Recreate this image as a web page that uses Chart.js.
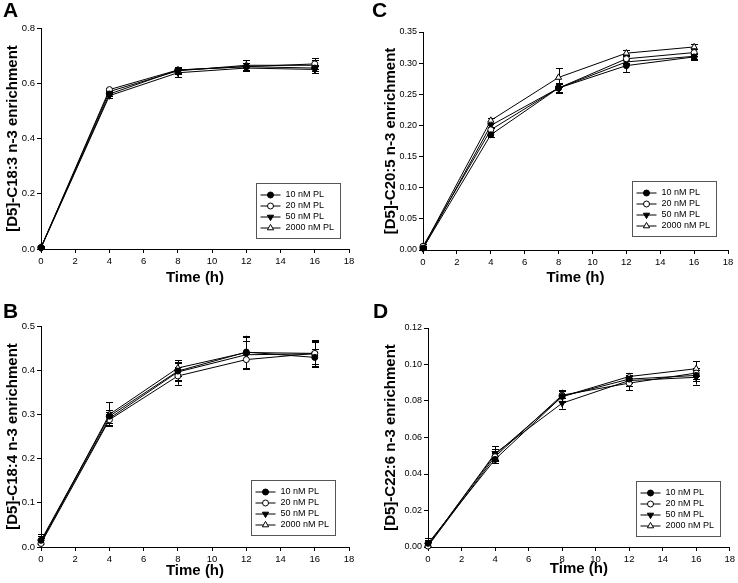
<!DOCTYPE html>
<html><head><meta charset="utf-8">
<script src="https://cdn.jsdelivr.net/npm/chart.js@4/dist/chart.umd.min.js"></script>
<style>
html,body{margin:0;padding:0;background:#fff;}
#wrap{position:relative;width:738px;height:583px;overflow:hidden;}
canvas{position:absolute;}
.lt{position:absolute;font:bold 21px "Liberation Sans",Arial,sans-serif;line-height:21px;color:#000;}
</style></head><body>
<div id="wrap">
<canvas id="cA" width="369" height="290" style="left:0;top:0"></canvas>
<canvas id="cC" width="369" height="290" style="left:369px;top:0"></canvas>
<canvas id="cB" width="369" height="293" style="left:0;top:290px"></canvas>
<canvas id="cD" width="369" height="293" style="left:369px;top:290px"></canvas>
<div class="lt" style="left:3px;top:-1px">A</div>
<div class="lt" style="left:372px;top:-1px">C</div>
<div class="lt" style="left:3px;top:300px">B</div>
<div class="lt" style="left:373px;top:300px">D</div>
</div>
<script>
// ---- data ----
const timePoints = [0, 4, 8, 12, 16];
const seriesLabels = ['10 nM PL', '20 nM PL', '50 nM PL', '2000 nM PL'];
const xTickValues = [0, 2, 4, 6, 8, 10, 12, 14, 16, 18];

// Panel A: [D5]-C18:3 n-3
const a10 = [0.005, 0.561, 0.648, 0.660, 0.655];
const a20 = [0.005, 0.577, 0.648, 0.660, 0.670];
const a50 = [0.004, 0.555, 0.638, 0.655, 0.650];
const a2000 = [0.006, 0.570, 0.645, 0.665, 0.665];
const a10Err = [0.004, 0.008, 0.010, 0.012, 0.012];
const a20Err = [0.004, 0.006, 0.008, 0.015, 0.020];
const a50Err = [0.004, 0.008, 0.015, 0.010, 0.012];
const a2000Err = [0.004, 0.006, 0.010, 0.018, 0.020];
const aYTicks = [0.0, 0.2, 0.4, 0.6, 0.8];

// Panel B: [D5]-C18:4 n-3
const b10 = [0.015, 0.296, 0.398, 0.441, 0.429];
const b20 = [0.008, 0.288, 0.387, 0.424, 0.438];
const b50 = [0.012, 0.291, 0.396, 0.435, 0.437];
const b2000 = [0.010, 0.300, 0.405, 0.440, 0.438];
const b10Err = [0.015, 0.015, 0.020, 0.035, 0.020];
const b20Err = [0.012, 0.012, 0.020, 0.018, 0.025];
const b50Err = [0.012, 0.015, 0.020, 0.030, 0.028];
const b2000Err = [0.010, 0.027, 0.018, 0.038, 0.030];
const bYTicks = [0.0, 0.1, 0.2, 0.3, 0.4, 0.5];

// Panel C: [D5]-C20:5 n-3
const c10 = [0.003, 0.185, 0.260, 0.296, 0.310];
const c20 = [0.006, 0.193, 0.260, 0.307, 0.317];
const c50 = [0.002, 0.200, 0.260, 0.302, 0.311];
const c2000 = [0.004, 0.208, 0.277, 0.316, 0.326];
const c10Err = [0.003, 0.004, 0.008, 0.010, 0.004];
const c20Err = [0.003, 0.004, 0.006, 0.006, 0.005];
const c50Err = [0.003, 0.004, 0.006, 0.004, 0.006];
const c2000Err = [0.003, 0.004, 0.015, 0.005, 0.004];
const cYTicks = [0.00, 0.05, 0.10, 0.15, 0.20, 0.25, 0.30, 0.35];

// Panel D: [D5]-C22:6 n-3
const d10 = [0.002, 0.0480, 0.0825, 0.0920, 0.0940];
const d20 = [0.0005, 0.0495, 0.0832, 0.0898, 0.0953];
const d50 = [0.001, 0.0513, 0.0788, 0.0912, 0.0930];
const d2000 = [0.001, 0.0506, 0.0824, 0.0934, 0.0977];
const d10Err = [0.003, 0.002, 0.003, 0.002, 0.003];
const d20Err = [0.002, 0.002, 0.003, 0.004, 0.003];
const d50Err = [0.002, 0.004, 0.003, 0.003, 0.004];
const d2000Err = [0.003, 0.003, 0.003, 0.002, 0.004];
const dYTicks = [0.00, 0.02, 0.04, 0.06, 0.08, 0.10, 0.12];

// ---- styles ----
const FONT = '"Liberation Sans", Arial, sans-serif';
const markerStyles = [
  {pointStyle: 'circle', rot: 0, fill: '#000', r: 3},
  {pointStyle: 'circle', rot: 0, fill: '#fff', r: 3},
  {pointStyle: 'triangle', rot: 180, fill: '#000', r: 3.6},
  {pointStyle: 'triangle', rot: 0, fill: '#fff', r: 3.6}
];

function drawMarker(ctx, m, x, y) {
  ctx.save();
  ctx.fillStyle = m.fill; ctx.strokeStyle = '#000'; ctx.lineWidth = 1;
  ctx.beginPath();
  if (m.pointStyle === 'circle') {
    ctx.arc(x, y, m.r, 0, Math.PI * 2);
  } else {
    const base = (m.rot === 180 ? Math.PI / 2 : -Math.PI / 2);
    for (let k = 0; k < 3; k++) {
      const a = base + k * 2 * Math.PI / 3;
      const px = x + m.r * Math.cos(a), py = y + m.r * Math.sin(a);
      if (k === 0) ctx.moveTo(px, py); else ctx.lineTo(px, py);
    }
    ctx.closePath();
  }
  ctx.fill(); ctx.stroke();
  ctx.restore();
}

const errorBars = {
  id: 'errorBars',
  beforeDatasetsDraw(chart) {
    const {ctx, scales: {x, y}} = chart;
    ctx.save();
    ctx.strokeStyle = '#000'; ctx.lineWidth = 1;
    chart.data.datasets.forEach(ds => {
      ds.data.forEach((p, i) => {
        const e = ds.errors[i];
        const px = Math.round(x.getPixelForValue(p.x)) + 0.5;
        const top = y.getPixelForValue(p.y + e);
        const bot = y.getPixelForValue(Math.max(y.min, p.y - e));
        ctx.beginPath();
        ctx.moveTo(px, top); ctx.lineTo(px, bot);
        ctx.moveTo(px - 3.5, Math.round(top) + 0.5); ctx.lineTo(px + 3.5, Math.round(top) + 0.5);
        if (p.y - e > y.min) { ctx.moveTo(px - 3.5, Math.round(bot) + 0.5); ctx.lineTo(px + 3.5, Math.round(bot) + 0.5); }
        ctx.stroke();
      });
    });
    ctx.restore();
  }
};

const legendBox = {
  id: 'legendBox',
  afterDraw(chart, args, opts) {
    const {ctx, chartArea: ca} = chart;
    const w = opts.w, h = opts.h;
    const x0 = Math.round(ca.right - opts.right - w) + 0.5;
    const y0 = Math.round(ca.bottom - opts.bottom - h) + 0.5;
    ctx.save();
    ctx.fillStyle = '#fff'; ctx.fillRect(x0, y0, w, h);
    ctx.strokeStyle = '#555'; ctx.lineWidth = 1; ctx.strokeRect(x0, y0, w, h);
    chart.data.datasets.forEach((ds, i) => {
      const y = y0 + 11.5 + i * 11;
      ctx.strokeStyle = '#000'; ctx.lineWidth = 1;
      ctx.beginPath(); ctx.moveTo(x0 + 4, y); ctx.lineTo(x0 + 24, y); ctx.stroke();
      drawMarker(ctx, markerStyles[i], x0 + 14, y);
      ctx.fillStyle = '#000'; ctx.font = '9px ' + FONT; ctx.textBaseline = 'middle'; ctx.textAlign = 'left';
      ctx.fillText(ds.label, x0 + 29, y);
    });
    ctx.restore();
  }
};

function makeChart(id, values, errs, yTicks, yDecimals, yTitle, lay) {
  const datasets = values.map((vals, i) => ({
    label: seriesLabels[i],
    data: timePoints.map((t, k) => ({x: t, y: vals[k]})),
    errors: errs[i],
    showLine: true,
    borderColor: '#000',
    borderWidth: 1,
    tension: 0,
    pointStyle: markerStyles[i].pointStyle,
    rotation: markerStyles[i].rot,
    pointRadius: markerStyles[i].r,
    pointBackgroundColor: markerStyles[i].fill,
    pointBorderColor: '#000',
    pointBorderWidth: 1,
    clip: false
  }));
  return new Chart(document.getElementById(id), {
    type: 'scatter',
    data: {datasets},
    plugins: [errorBars, legendBox],
    options: {
      responsive: false,
      animation: false,
      events: [],
      layout: {autoPadding: false, padding: {left: 0, top: lay.top, right: lay.right, bottom: 0}},
      plugins: {
        legend: {display: false},
        tooltip: {enabled: false},
        legendBox: {w: 84, h: 55, right: lay.lr, bottom: lay.lb}
      },
      scales: {
        x: {
          type: 'linear', min: 0, max: 18,
          afterBuildTicks: s => { s.ticks = xTickValues.map(v => ({value: v})); },
          afterFit: s => { s.height = lay.xh; },
          grid: {drawOnChartArea: false, drawTicks: true, tickLength: 4, color: '#000', tickWidth: 1},
          border: {display: true, color: '#000', width: 1},
          ticks: {color: '#000', font: {family: FONT, size: 9.5}, padding: 3, maxRotation: 0, autoSkip: false},
          title: {display: true, text: 'Time (h)', color: '#000', font: {family: FONT, size: 15, weight: 'bold'}, padding: {top: 0, bottom: lay.xtp}}
        },
        y: {
          type: 'linear', min: yTicks[0], max: yTicks[yTicks.length - 1],
          afterBuildTicks: s => { s.ticks = yTicks.map(v => ({value: v})); },
          afterFit: s => { s.width = lay.yw; },
          grid: {drawOnChartArea: false, drawTicks: true, tickLength: 4, color: '#000', tickWidth: 1},
          border: {display: true, color: '#000', width: 1},
          ticks: {color: '#000', font: {family: FONT, size: lay.yfs}, padding: 2, autoSkip: false,
                  callback: v => Number(v).toFixed(yDecimals)},
          title: {display: true, text: yTitle, color: '#000', font: {family: FONT, size: 15, weight: 'bold'}, padding: {top: lay.ytp, bottom: 0}}
        }
      }
    }
  });
}

makeChart('cA', [a10, a20, a50, a2000], [a10Err, a20Err, a50Err, a2000Err], aYTicks, 1,
  '[D5]-C18:3 n-3 enrichment', {top: 28, right: 20, xh: 41, yw: 41, xtp: 3, ytp: 4, lr: 9, lb: 11, yfs: 9.5});
makeChart('cC', [c10, c20, c50, c2000], [c10Err, c20Err, c50Err, c2000Err], cYTicks, 2,
  '[D5]-C20:5 n-3 enrichment', {top: 32, right: 10, xh: 40, yw: 54, xtp: 3, ytp: 13, lr: 12, lb: 14, yfs: 9});
makeChart('cB', [b10, b20, b50, b2000], [b10Err, b20Err, b50Err, b2000Err], bYTicks, 1,
  '[D5]-C18:4 n-3 enrichment', {top: 36, right: 20, xh: 36, yw: 41, xtp: 3, ytp: 4, lr: 14, lb: 12, yfs: 9.5});
makeChart('cD', [d10, d20, d50, d2000], [d10Err, d20Err, d50Err, d2000Err], dYTicks, 2,
  '[D5]-C22:6 n-3 enrichment', {top: 38, right: 5, xh: 36, yw: 59, xtp: 5, ytp: 13, lr: 10, lb: 11, yfs: 9});
</script>
</body></html>
